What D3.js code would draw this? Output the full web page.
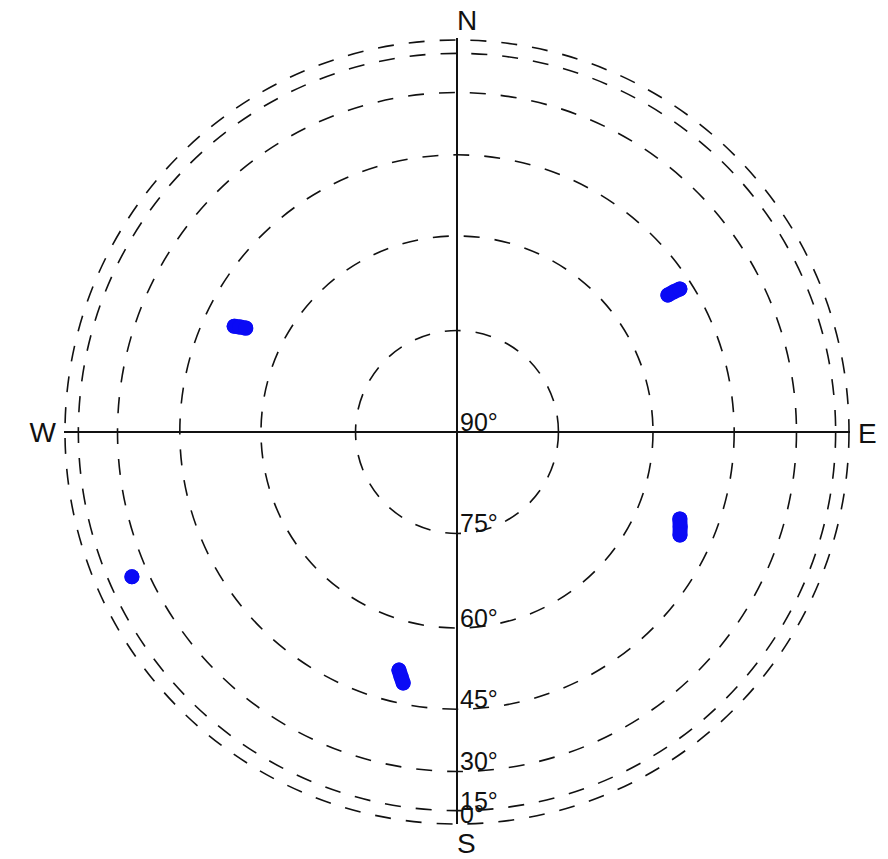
<!DOCTYPE html>
<html>
<head>
<meta charset="utf-8">
<script src="https://cdn.jsdelivr.net/npm/d3@7"></script>
<style>
  body { margin: 0; background: #fff; }
  text { font-family: "Liberation Sans", Arial, sans-serif; fill: #111; }
</style>
</head>
<body>
<div id="skyplot"></div>
<script>
// elevation rings (degrees) and compass labels
const elevRings = [0, 15, 30, 45, 60, 75];
const elevLabels = [90, 75, 60, 45, 30, 15, 0];
const compass = ["N", "E", "S", "W"];

// satellite tracks: azimuth (deg from N, clockwise) and elevation (deg)
const trackIds = ["sat1", "sat2", "sat3", "sat4", "sat5"];
const trackAz = [
    [57.0, 57.1, 57.3],
    [295.4, 295.8, 296.2],
    [111.3, 113.0, 114.8],
    [193.7, 192.9, 192.1],
    [246.0]
];
const trackEl = [
    [50.1, 48.8, 47.5],
    [51.0, 52.0, 53.1],
    [52.4, 51.8, 51.2],
    [51.3, 50.2, 49.1],
    [24.8]
];

const width = 888, height = 859;
const cx = 457, cy = 432, R = 392;

const svg = d3.select("#skyplot")
    .append("svg")
    .attr("width", width)
    .attr("height", height);

// radius = R * cos(elevation) (orthographic sky projection)
const rScale = d3.scaleLinear().domain([0, 1]).range([0, R]);
const rOf = el => rScale(Math.cos(el * Math.PI / 180));
const xy = (az, el) => {
    const a = az * Math.PI / 180, r = rOf(el);
    return [cx + r * Math.sin(a), cy - r * Math.cos(a)];
};

const g = svg.append("g");

// dashed elevation circles
g.selectAll("circle.ring")
    .data(elevRings)
    .enter().append("circle")
    .attr("class", "ring")
    .attr("cx", cx)
    .attr("cy", cy)
    .attr("r", d => rOf(d))
    .attr("fill", "none")
    .attr("stroke", "#111")
    .attr("stroke-width", 1.6)
    .attr("stroke-dasharray", "16,15");

// cross axes
g.append("line")
    .attr("x1", cx).attr("x2", cx)
    .attr("y1", cy - R - 2).attr("y2", cy + R)
    .attr("stroke", "#111").attr("stroke-width", 2);
g.append("line")
    .attr("x1", cx - R - 1).attr("x2", cx + R + 1)
    .attr("y1", cy).attr("y2", cy)
    .attr("stroke", "#111").attr("stroke-width", 2);

// elevation labels along the south axis
g.selectAll("text.elev")
    .data(elevLabels)
    .enter().append("text")
    .attr("class", "elev")
    .attr("x", cx + 3)
    .attr("y", d => cy + rOf(d) - 1)
    .style("font-size", "25px")
    .text(d => d + "°");

// compass labels
const compassPos = {
    N: { x: cx, y: cy - R - 10, anchor: "start" },
    S: { x: cx, y: cy + R + 29, anchor: "start" },
    E: { x: cx + R + 9, y: cy + 11, anchor: "start" },
    W: { x: cx - R - 9, y: cy + 10, anchor: "end" }
};
g.selectAll("text.dir")
    .data(compass)
    .enter().append("text")
    .attr("class", "dir")
    .attr("x", d => compassPos[d].x)
    .attr("y", d => compassPos[d].y)
    .attr("text-anchor", d => compassPos[d].anchor)
    .style("font-size", "28px")
    .text(d => d);

// satellite tracks
const tracks = trackIds.map((id, i) => ({
    id: id,
    pts: trackAz[i].map((az, j) => xy(az, trackEl[i][j]))
}));

const line = d3.line();
const tg = g.selectAll("g.track")
    .data(tracks)
    .enter().append("g")
    .attr("class", "track");

tg.append("path")
    .attr("d", d => line(d.pts))
    .attr("fill", "none")
    .attr("stroke", "#0a0af5")
    .attr("stroke-width", 15)
    .attr("stroke-linecap", "round")
    .attr("stroke-linejoin", "round");

tg.selectAll("circle")
    .data(d => d.pts)
    .enter().append("circle")
    .attr("cx", d => d[0])
    .attr("cy", d => d[1])
    .attr("r", 7.5)
    .attr("fill", "#0a0af5");
</script>
</body>
</html>
